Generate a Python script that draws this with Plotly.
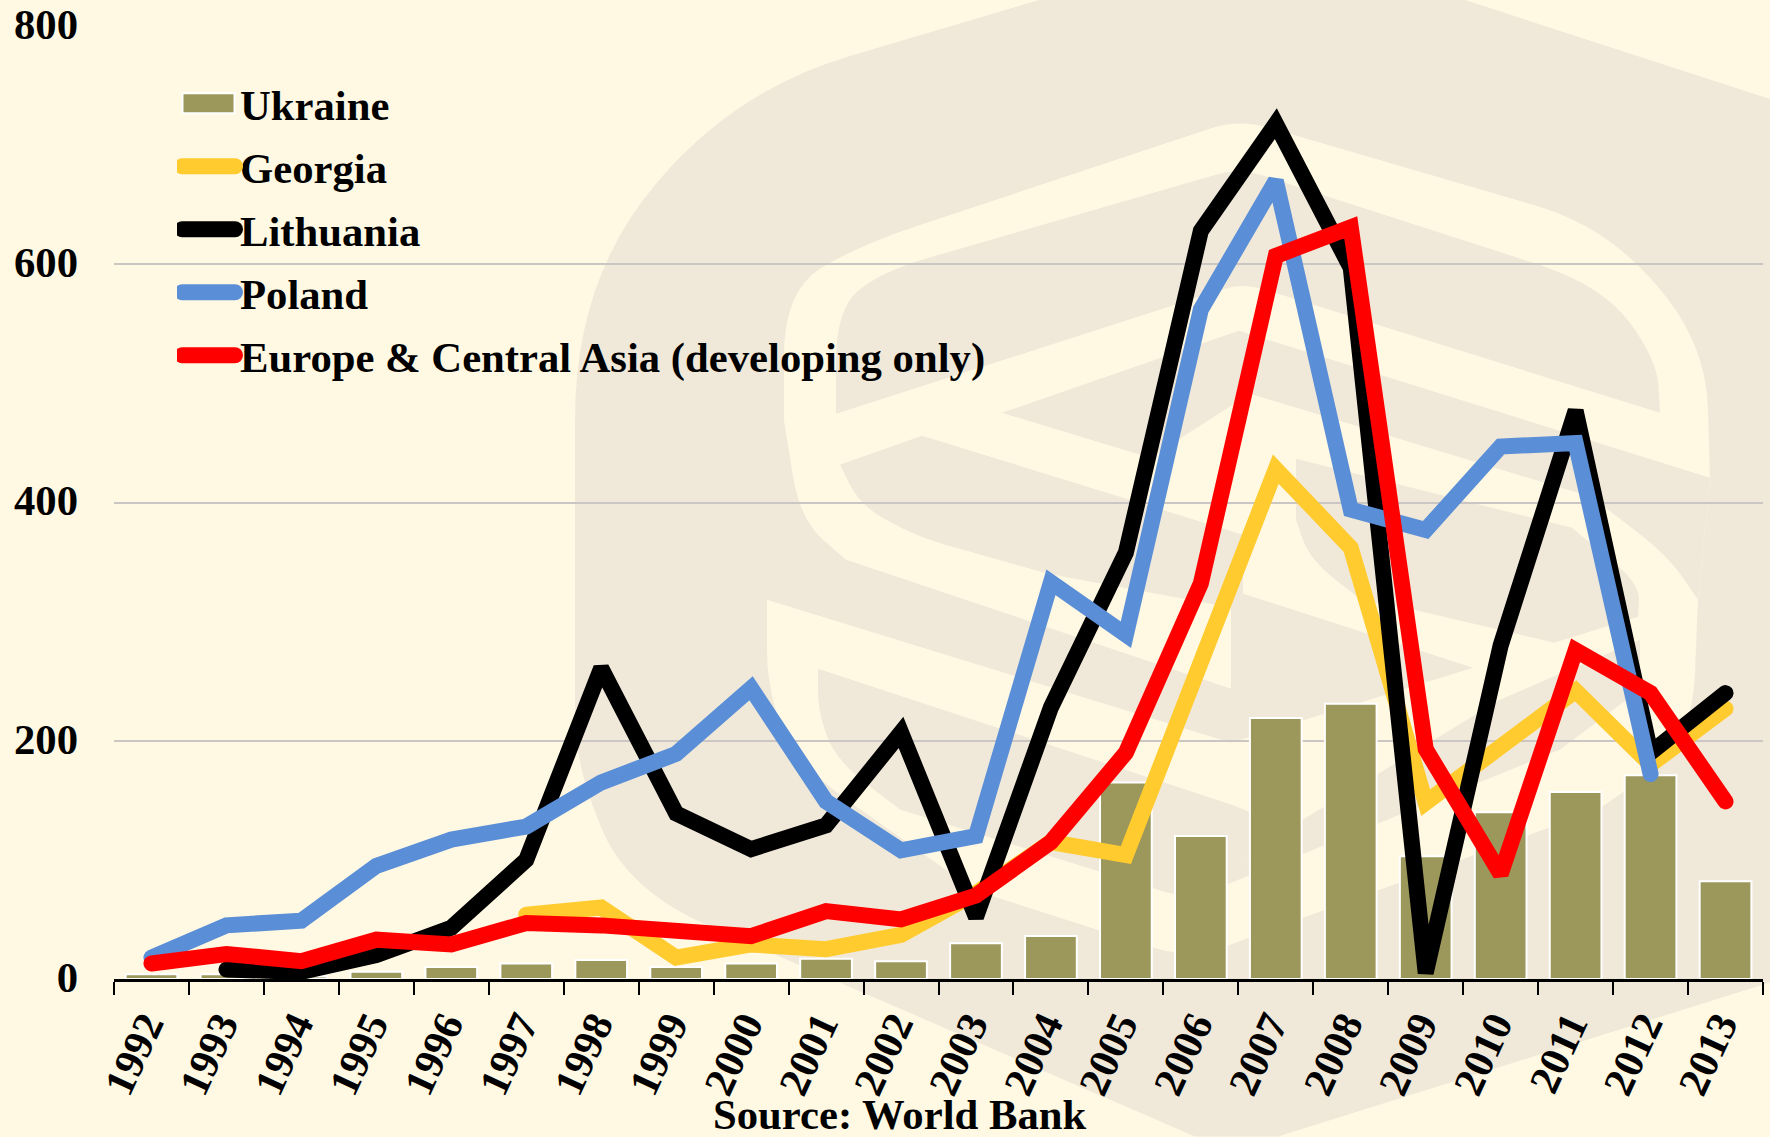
import plotly.graph_objects as go

years = [str(y) for y in range(1992, 2014)]
ukraine = [4, 4, 2, 6, 10, 13, 16, 10, 13, 17, 15, 30, 36, 165, 120, 219, 231, 103, 140, 157, 171, 82]
georgia = [None]*5 + [54, 60, 18, 29, 25, 37, 72, 115, 104, 265, 428, 362, 148, 195, 242, 180, 227]
lithuania = [None, 8, 6, 20, 43, 100, 261, 139, 109, 129, 207, 52, 228, 358, 628, 718, 597, 5, 280, 477, 190, 240]
poland = [18, 45, 49, 95, 117, 128, 165, 189, 244, 149, 108, 120, 333, 289, 562, 670, 394, 377, 447, 450, 172, None]
eca = [13, 21, 15, 33, 29, 47, 45, 39, 36, 57, 50, 70, 115, 190, 332, 607, 631, 193, 88, 276, 240, 149]

W, H = 1770, 1137
L, R, T, B = 114, 7, 26, 157.5
BG, DARK = "#FFF8E3", "#F0E9DA"
FONT = "Liberation Serif"

def px(x, y):
    return f"{(x-L)/(W-L-R):.5f},{1-(y-T)/(H-T-B):.5f}"

def smooth(pts):
    """Closed path; a point (x, y, r) gets a corner rounded with radius r."""
    n, parts = len(pts), []
    for i, p in enumerate(pts):
        x, y = p[0], p[1]
        r = p[2] if len(p) > 2 else 0
        if r == 0:
            parts.append(("L", x, y))
            continue
        ax, ay = pts[i-1][0], pts[i-1][1]
        bx, by = pts[(i+1) % n][0], pts[(i+1) % n][1]
        da = max(((ax-x)**2+(ay-y)**2)**.5, 1)
        db = max(((bx-x)**2+(by-y)**2)**.5, 1)
        ra, rb = min(r, da/2), min(r, db/2)
        parts.append(("L", x+(ax-x)*ra/da, y+(ay-y)*ra/da))
        parts.append(("Q", x, y, x+(bx-x)*rb/db, y+(by-y)*rb/db))
    s = ""
    for j, q in enumerate(parts):
        if q[0] == "L":
            s += ("M " if j == 0 else "L ") + px(q[1], q[2]) + " "
        else:
            s += "Q " + px(q[1], q[2]) + " " + px(q[3], q[4]) + " "
    return s + "Z"

wm_outer = [(1039, 0), (1465, 0), (1770, 99), (1770, 983), (1278, 1137), (1195, 1137),
            (625, 890, 90), (575, 760, 50), (575, 280, 140), (735, 90, 120)]
wm_light = [(784, 421), (784, 290, 90), (860, 245, 60), (1239, 119, 30), (1602, 225, 70), (1706, 340, 110), (1710, 478),
            (1698, 600), (1692, 745, 70), (1598, 810), (1190, 960, 40), (975, 891), (790, 760, 70), (767, 680, 30), (767, 600),
            (1231, 743), (1473, 668), (1231, 590), (1231, 689), (846, 560), (800, 520, 45)]
wm_dark = [
    [(836, 414), (836, 310, 70), (880, 272, 50), (1239, 168, 25), (1602, 285, 70), (1657, 360, 60), (1660, 413), (1243, 283, 20), (836, 414)],
    [(1002, 413), (1239, 331), (1710, 478), (1698, 600), (1667, 555, 40), (1591, 497), (1250, 394), (1150, 458)],
    [(1296, 459), (1572, 528), (1640, 585, 30), (1638, 617), (1554, 643), (1414, 610), (1361, 600), (1310, 560, 40), (1296, 520)],
    [(840, 465), (922, 436), (1243, 535), (1243, 610), (1048, 574), (914, 536, 30), (860, 505, 25)],
    [(818, 669), (1231, 805), (1290, 828), (1190, 900, 25), (900, 810), (835, 760, 40), (818, 710, 20)],
    [(1290, 828), (1500, 700), (1640, 640), (1640, 690, 20), (1560, 750), (1190, 900)],
]
shapes = [dict(type="path", xref="paper", yref="paper", path=smooth(wm_outer), fillcolor=DARK, line_width=0, layer="below"),
          dict(type="path", xref="paper", yref="paper", path=smooth(wm_light), fillcolor=BG, line_width=0, layer="below")]
shapes += [dict(type="path", xref="paper", yref="paper", path=smooth(p), fillcolor=DARK, line_width=0, layer="below") for p in wm_dark]

fig = go.Figure()
fig.add_bar(x=years, y=ukraine, name="Ukraine", legendgroup="a",
            marker=dict(color="#9C975B", line=dict(color="#FFFFFF", width=2)))
for name, vals, col, g in [("Georgia", georgia, "#FFCB2E", "b"), ("Lithuania", lithuania, "#000000", "c"),
                           ("Poland", poland, "#5A8ED6", "d"), ("Europe & Central Asia (developing only)", eca, "#FF0000", "e")]:
    fig.add_scatter(x=years, y=vals, name=name, mode="lines", legendgroup=g, connectgaps=False,
                    line=dict(color=col, width=16))

fig.update_layout(
    width=W, height=H, margin=dict(l=L, r=R, t=T, b=B, pad=0, autoexpand=False),
    paper_bgcolor=BG, plot_bgcolor="rgba(0,0,0,0)", bargap=0.31, shapes=shapes,
    font=dict(family=FONT, color="#000000", size=43, weight="bold"),
    legend=dict(x=(177-L)/(W-L-R), y=1-(69-T)/(H-T-B), xanchor="left", yanchor="top", bgcolor="rgba(0,0,0,0)",
                traceorder="grouped", tracegroupgap=4.5, itemwidth=53, itemclick=False,
                font=dict(family=FONT, size=42.7, weight="bold", color="#000000")),
    xaxis=dict(type="category", tickson="boundaries", ticks="outside", ticklen=13, tickwidth=1.5, tickcolor="#000000",
               showline=True, linecolor="#000000", linewidth=2.5, tickangle=-65, showgrid=False, zeroline=False,
               ticklabelshift=-6, ticklabelstandoff=2,
               tickfont=dict(family=FONT, size=42, weight="bold", color="#000000")),
    yaxis=dict(range=[0, 800], tickvals=[0, 200, 400, 600, 800], showgrid=True, gridcolor="#C9C6C4", gridwidth=1.5,
               zeroline=False, ticks="", showline=False, ticklabelstandoff=35, ticklabelshift=-2,
               tickfont=dict(family=FONT, size=42.7, weight="bold", color="#000000")),
    annotations=[dict(text="Source: World Bank", xref="paper", yref="paper", x=(899-L)/(W-L-R),
                      y=1-(1115-T)/(H-T-B), xanchor="center", yanchor="middle", showarrow=False,
                      font=dict(family=FONT, size=42.7, weight="bold", color="#000000"))],
)

post = """
document.documentElement.style.background='#FFF8E3';
document.body.style.margin='0';document.body.style.overflow='hidden';
document.querySelectorAll('.js-line').forEach(function(p){p.style.strokeLinecap='round';});
document.querySelectorAll('.legendlines path').forEach(function(p){p.style.strokeLinecap='round';p.style.strokeWidth='16px';});
document.querySelectorAll('.legendpoints path').forEach(function(p){p.setAttribute('d','M26,10H-26V-10H26Z');});
"""
fig.write_html("out.html", post_script=post, config={"displayModeBar": False})
